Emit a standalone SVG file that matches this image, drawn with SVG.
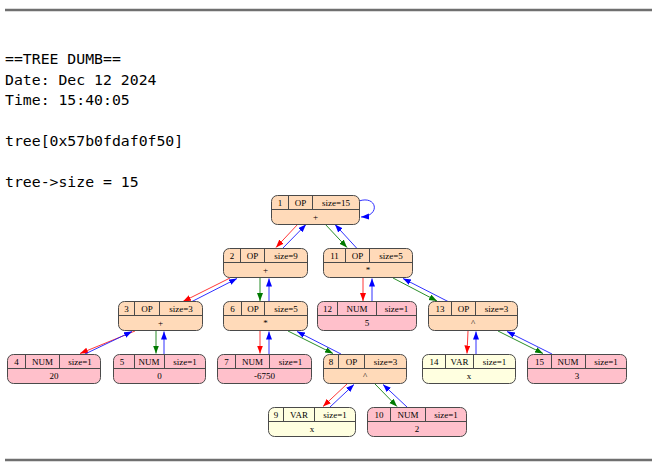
<svg xmlns="http://www.w3.org/2000/svg" width="653" height="476" viewBox="0 0 653 476">
  <style>
    .hdr { font-family: "DejaVu Sans Mono", "Liberation Mono", monospace; font-size: 14.8px; fill: #000; }
    .rule { stroke: #6f6f6f; stroke-width: 2.5; }
    .box { stroke: #4a4a4a; stroke-width: 1; }
    .op { fill: #ffdab9; }
    .num { fill: #ffc0cb; }
    .var { fill: #ffffe0; }
    .sep { stroke: #4a4a4a; stroke-width: 1; fill: none; }
    .lbl { font-family: "Liberation Serif", "Times New Roman", serif; font-size: 9px; fill: #000; text-anchor: middle; }
    .e { fill: none; stroke-width: 0.9; }
    .r { stroke: #ff2020; marker-end: url(#ar); }
    .g { stroke: #108010; marker-end: url(#ag); }
    .b { stroke: #1a1aff; marker-end: url(#ab); }
  </style>
  <defs>
    <marker id="ar" markerUnits="userSpaceOnUse" markerWidth="9" markerHeight="7" refX="8" refY="3" orient="auto">
      <path d="M0,0 L8,3 L0,6 z" fill="#ff0000"/>
    </marker>
    <marker id="ag" markerUnits="userSpaceOnUse" markerWidth="9" markerHeight="7" refX="8" refY="3" orient="auto">
      <path d="M0,0 L8,3 L0,6 z" fill="#007a00"/>
    </marker>
    <marker id="ab" markerUnits="userSpaceOnUse" markerWidth="9" markerHeight="7" refX="8" refY="3" orient="auto">
      <path d="M0,0 L8,3 L0,6 z" fill="#0000ff"/>
    </marker>
  </defs>

  <rect width="653" height="476" fill="#ffffff"/>

  <!-- page rules -->
  <line class="rule" x1="5" y1="10" x2="652" y2="10"/>
  <line class="rule" x1="5" y1="460" x2="652" y2="460"/>

  <!-- dump header -->
  <g id="header">
    <text class="hdr" x="5" y="64">==TREE DUMB==</text>
    <text class="hdr" x="5" y="84.5">Date: Dec 12 2024</text>
    <text class="hdr" x="5" y="105">Time: 15:40:05</text>
    <text class="hdr" x="5" y="146">tree[0x57b0fdaf0f50]</text>
    <text class="hdr" x="5" y="187">tree-&gt;size = 15</text>
  </g>

  <!-- connectors -->
  <g id="edges">
    <!-- 1 -> 2 / 11 -->
    <path class="e r" d="M298,224 L276,247.5"/>
    <path class="e b" d="M283,248 L306,224.5"/>
    <path class="e g" d="M325,224 L347,247.5"/>
    <path class="e b" d="M357,248.5 L335,224.5"/>
    <!-- self loop on 1 -->
    <path class="e b" d="M359,201 C377,195 381,216 361,217"/>
    <!-- 2 -> 3 / 6 -->
    <path class="e r" d="M230,278 L183,301.5"/>
    <path class="e b" d="M192,301.5 L237,278.5"/>
    <path class="e g" d="M260,278 L260,301"/>
    <path class="e b" d="M269,301.5 L269,278.5"/>
    <!-- 11 -> 12 / 13 -->
    <path class="e r" d="M363,278 L363,301"/>
    <path class="e b" d="M372,301.5 L372,278.5"/>
    <path class="e g" d="M393,278 L437,301"/>
    <path class="e b" d="M448,301.5 L403,278.5"/>
    <!-- 3 -> 4 / 5 -->
    <path class="e r" d="M135,331 L80,353.5"/>
    <path class="e b" d="M85,354 L132,331.5"/>
    <path class="e g" d="M156,331 L156,353.5"/>
    <path class="e b" d="M164,354 L164,331.5"/>
    <!-- 6 -> 7 / 8 -->
    <path class="e r" d="M260,331 L260,353.5"/>
    <path class="e b" d="M269,354 L269,331.5"/>
    <path class="e g" d="M288,331 L333,353.5"/>
    <path class="e b" d="M341,354 L297,331.5"/>
    <!-- 13 -> 14 / 15 -->
    <path class="e r" d="M468,331 L467,353.5"/>
    <path class="e b" d="M476,354 L476,331.5"/>
    <path class="e g" d="M498,331 L543,353.5"/>
    <path class="e b" d="M552,354 L507,331.5"/>
    <!-- 8 -> 9 / 10 -->
    <path class="e r" d="M347,384 L323,406.5"/>
    <path class="e b" d="M330,407 L354,384.5"/>
    <path class="e g" d="M375,384 L397,406.5"/>
    <path class="e b" d="M407,407 L383,384.5"/>
  </g>

  <!-- nodes -->
  <g id="node1">
    <rect class="box op" x="271.5" y="195.5" width="88" height="29" rx="6"/>
    <path class="sep" d="M271.5,209.5 H359.5 M288.5,195.5 V209.5 M312.5,195.5 V209.5"/>
    <text class="lbl" x="280" y="205.5">1</text>
    <text class="lbl" x="300.5" y="205.5">OP</text>
    <text class="lbl" x="336" y="205.5">size=15</text>
    <text class="lbl" x="315.5" y="219.5">+</text>
  </g>
  <g id="node2">
    <rect class="box op" x="223.5" y="248.5" width="84" height="29" rx="6"/>
    <path class="sep" d="M223.5,262.5 H307.5 M240.5,248.5 V262.5 M264.5,248.5 V262.5"/>
    <text class="lbl" x="232" y="258.5">2</text>
    <text class="lbl" x="252.5" y="258.5">OP</text>
    <text class="lbl" x="286" y="258.5">size=9</text>
    <text class="lbl" x="265.5" y="272.5">+</text>
  </g>
  <g id="node11">
    <rect class="box op" x="323.5" y="248.5" width="89" height="29" rx="6"/>
    <path class="sep" d="M323.5,262.5 H412.5 M345.5,248.5 V262.5 M369.5,248.5 V262.5"/>
    <text class="lbl" x="334.5" y="258.5">11</text>
    <text class="lbl" x="357.5" y="258.5">OP</text>
    <text class="lbl" x="391" y="258.5">size=5</text>
    <text class="lbl" x="368" y="272.5">*</text>
  </g>
  <g id="node3">
    <rect class="box op" x="118.5" y="301.5" width="84" height="29" rx="6"/>
    <path class="sep" d="M118.5,315.5 H202.5 M134.5,301.5 V315.5 M159.5,301.5 V315.5"/>
    <text class="lbl" x="126.5" y="311.5">3</text>
    <text class="lbl" x="147" y="311.5">OP</text>
    <text class="lbl" x="181" y="311.5">size=3</text>
    <text class="lbl" x="160.5" y="325.5">+</text>
  </g>
  <g id="node6">
    <rect class="box op" x="223.5" y="301.5" width="84" height="29" rx="6"/>
    <path class="sep" d="M223.5,315.5 H307.5 M241.5,301.5 V315.5 M264.5,301.5 V315.5"/>
    <text class="lbl" x="232.5" y="311.5">6</text>
    <text class="lbl" x="253" y="311.5">OP</text>
    <text class="lbl" x="286" y="311.5">size=5</text>
    <text class="lbl" x="265.5" y="325.5">*</text>
  </g>
  <g id="node12">
    <rect class="box num" x="317.5" y="301.5" width="99" height="29" rx="6"/>
    <path class="sep" d="M317.5,315.5 H416.5 M337.5,301.5 V315.5 M376.5,301.5 V315.5"/>
    <text class="lbl" x="327.5" y="311.5">12</text>
    <text class="lbl" x="357" y="311.5">NUM</text>
    <text class="lbl" x="396.5" y="311.5">size=1</text>
    <text class="lbl" x="367" y="325.5">5</text>
  </g>
  <g id="node13">
    <rect class="box op" x="428.5" y="301.5" width="89" height="29" rx="6"/>
    <path class="sep" d="M428.5,315.5 H517.5 M451.5,301.5 V315.5 M475.5,301.5 V315.5"/>
    <text class="lbl" x="440" y="311.5">13</text>
    <text class="lbl" x="463.5" y="311.5">OP</text>
    <text class="lbl" x="496.5" y="311.5">size=3</text>
    <text class="lbl" x="473" y="325.5">^</text>
  </g>
  <g id="node4">
    <rect class="box num" x="7.5" y="354.5" width="93" height="29" rx="6"/>
    <path class="sep" d="M7.5,368.5 H100.5 M25.5,354.5 V368.5 M59.5,354.5 V368.5"/>
    <text class="lbl" x="16.5" y="364.5">4</text>
    <text class="lbl" x="42.5" y="364.5">NUM</text>
    <text class="lbl" x="80" y="364.5">size=1</text>
    <text class="lbl" x="54" y="378.5">20</text>
  </g>
  <g id="node5">
    <rect class="box num" x="113.5" y="354.5" width="92" height="29" rx="6"/>
    <path class="sep" d="M113.5,368.5 H205.5 M134.5,354.5 V368.5 M164.5,354.5 V368.5"/>
    <text class="lbl" x="122" y="364.5">5</text>
    <text class="lbl" x="149" y="364.5">NUM</text>
    <text class="lbl" x="185" y="364.5">size=1</text>
    <text class="lbl" x="159.5" y="378.5">0</text>
  </g>
  <g id="node7">
    <rect class="box num" x="217.5" y="354.5" width="94" height="29" rx="6"/>
    <path class="sep" d="M217.5,368.5 H311.5 M235.5,354.5 V368.5 M269.5,354.5 V368.5"/>
    <text class="lbl" x="226.5" y="364.5">7</text>
    <text class="lbl" x="252.5" y="364.5">NUM</text>
    <text class="lbl" x="290.5" y="364.5">size=1</text>
    <text class="lbl" x="264.5" y="378.5">-6750</text>
  </g>
  <g id="node8">
    <rect class="box op" x="323.5" y="354.5" width="83" height="29" rx="6"/>
    <path class="sep" d="M323.5,368.5 H406.5 M338.5,354.5 V368.5 M364.5,354.5 V368.5"/>
    <text class="lbl" x="331" y="364.5">8</text>
    <text class="lbl" x="351.5" y="364.5">OP</text>
    <text class="lbl" x="385.5" y="364.5">size=3</text>
    <text class="lbl" x="365" y="378.5">^</text>
  </g>
  <g id="node14">
    <rect class="box var" x="422.5" y="354.5" width="93" height="29" rx="6"/>
    <path class="sep" d="M422.5,368.5 H515.5 M445.5,354.5 V368.5 M473.5,354.5 V368.5"/>
    <text class="lbl" x="434" y="364.5">14</text>
    <text class="lbl" x="459.5" y="364.5">VAR</text>
    <text class="lbl" x="494.5" y="364.5">size=1</text>
    <text class="lbl" x="469" y="378.5">x</text>
  </g>
  <g id="node15">
    <rect class="box num" x="527.5" y="354.5" width="99" height="29" rx="6"/>
    <path class="sep" d="M527.5,368.5 H626.5 M551.5,354.5 V368.5 M585.5,354.5 V368.5"/>
    <text class="lbl" x="539.5" y="364.5">15</text>
    <text class="lbl" x="568" y="364.5">NUM</text>
    <text class="lbl" x="606" y="364.5">size=1</text>
    <text class="lbl" x="577" y="378.5">3</text>
  </g>
  <g id="node9">
    <rect class="box var" x="268.5" y="407.5" width="87" height="29" rx="6"/>
    <path class="sep" d="M268.5,421.5 H355.5 M283.5,407.5 V421.5 M314.5,407.5 V421.5"/>
    <text class="lbl" x="276" y="417.5">9</text>
    <text class="lbl" x="299" y="417.5">VAR</text>
    <text class="lbl" x="335" y="417.5">size=1</text>
    <text class="lbl" x="312" y="431.5">x</text>
  </g>
  <g id="node10">
    <rect class="box num" x="367.5" y="407.5" width="99" height="29" rx="6"/>
    <path class="sep" d="M367.5,421.5 H466.5 M390.5,407.5 V421.5 M425.5,407.5 V421.5"/>
    <text class="lbl" x="379" y="417.5">10</text>
    <text class="lbl" x="408" y="417.5">NUM</text>
    <text class="lbl" x="446" y="417.5">size=1</text>
    <text class="lbl" x="417" y="431.5">2</text>
  </g>
</svg>
